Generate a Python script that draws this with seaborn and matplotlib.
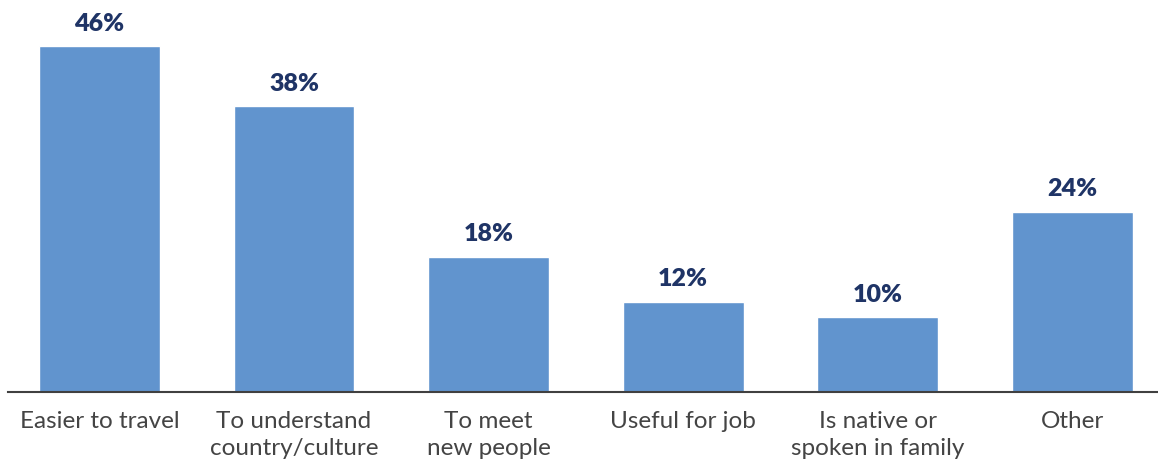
import matplotlib
matplotlib.use("Agg")
import matplotlib.pyplot as plt
import seaborn as sns
import pandas as pd

categories = ["Easier to travel", "To understand\ncountry/culture", "To meet\nnew people",
              "Useful for job", "Is native or\nspoken in family", "Other"]
values = [46, 38, 18, 12, 10, 24]
value_labels = ["46%", "38%", "18%", "12%", "10%", "24%"]

sns.set_theme(style="white")
plt.rcParams['font.family'] = ['Lato', 'DejaVu Sans']

df = pd.DataFrame({"category": categories, "value": values})

fig = plt.figure(figsize=(11.58, 4.61), dpi=100)
ax = fig.add_axes([8/1158, 69/461, 1150/1158, 392/461])
sns.barplot(data=df, x="category", y="value", color="#6194CE", saturation=1,
            width=0.62, ax=ax)

ax.set_xlim(-0.47, 5.44)
ax.set_ylim(0, 392/7.52)
for i, (v, lab) in enumerate(zip(values, value_labels)):
    ax.text(i, v + 1.5, lab, ha="center", va="bottom", fontsize=18,
            fontweight="heavy", color="#1F3466")

for s in ["top", "right", "left"]:
    ax.spines[s].set_visible(False)
ax.spines["bottom"].set_color("#404040")
ax.spines["bottom"].set_linewidth(1.5)
ax.set_yticks([])
ax.set_xlabel("")
ax.set_ylabel("")
ax.tick_params(axis="x", length=0, pad=14, labelsize=17.5, labelcolor="#444444")
for t in ax.get_xticklabels():
    t.set_linespacing(1.35)
    t.set_verticalalignment("top")

fig.savefig("out.png", dpi=100)
